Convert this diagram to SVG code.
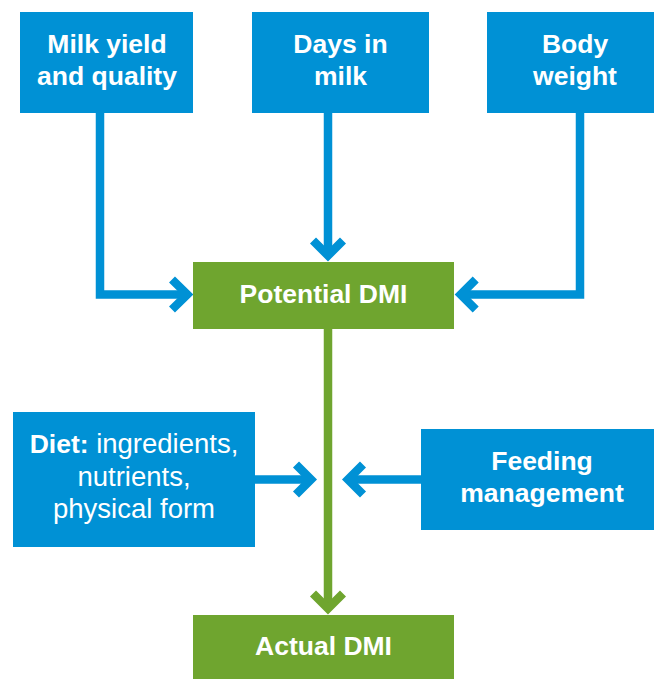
<svg xmlns="http://www.w3.org/2000/svg" width="654" height="679" viewBox="0 0 654 679">
<style>
.blue{fill:#0091d5}
.green{fill:#6fa52f}
.t{font-family:"Liberation Sans",Arial,sans-serif;font-size:26.5px;font-weight:bold;fill:#fff;text-anchor:middle}
.r{font-weight:normal;font-size:27.5px}
.cb{fill:none;stroke:#0091d5;stroke-width:8.5;stroke-miterlimit:10}
.cg{fill:none;stroke:#6fa52f;stroke-width:8.5;stroke-miterlimit:10}
</style>
<rect width="654" height="679" fill="#fff"/>
<g id="connectors">
<polyline class="cb" points="100,113 100,294.5 188,294.5"/>
<polyline class="cb" points="172,279.5 187.3,294.5 172,309.5"/>
<line class="cb" x1="328" y1="113" x2="328" y2="255"/>
<polyline class="cb" points="313,240.5 328,255.5 343,240.5"/>
<polyline class="cb" points="580,113 580,294.5 460,294.5"/>
<polyline class="cb" points="475.7,279.5 460.7,294.5 475.7,309.5"/>
<line class="cg" x1="328" y1="329" x2="328" y2="608"/>
<polyline class="cg" points="313,593.5 328,608.5 343,593.5"/>
<line class="cb" x1="255" y1="479.5" x2="311" y2="479.5"/>
<polyline class="cb" points="296,464.5 311,479.5 296,494.5"/>
<line class="cb" x1="421" y1="479.5" x2="348" y2="479.5"/>
<polyline class="cb" points="363,464.5 348,479.5 363,494.5"/>
</g>
<g id="milk">
<rect class="blue" x="20" y="12" width="173" height="101"/>
<text class="t" x="107" y="53">Milk yield</text>
<text class="t" x="107" y="85">and quality</text>
</g>
<g id="days">
<rect class="blue" x="252" y="12" width="177" height="101"/>
<text class="t" x="340.5" y="53">Days in</text>
<text class="t" x="340.5" y="85">milk</text>
</g>
<g id="body">
<rect class="blue" x="487" y="12" width="176" height="101"/>
<text class="t" x="575" y="53">Body</text>
<text class="t" x="575" y="85">weight</text>
</g>
<g id="potential">
<rect class="green" x="193" y="262" width="261" height="67"/>
<text class="t" x="323.5" y="302.5">Potential DMI</text>
</g>
<g id="diet">
<rect class="blue" x="13" y="412" width="242" height="135"/>
<text class="t" x="134" y="453"><tspan>Diet:</tspan><tspan class="r"> ingredients,</tspan></text>
<text class="t r" x="134" y="486">nutrients,</text>
<text class="t r" x="134" y="518">physical form</text>
</g>
<g id="feeding">
<rect class="blue" x="421" y="429" width="242" height="101"/>
<text class="t" x="542" y="470">Feeding</text>
<text class="t" x="542" y="502">management</text>
</g>
<g id="actual">
<rect class="green" x="193" y="615" width="261" height="64"/>
<text class="t" x="323.5" y="655">Actual DMI</text>
</g>
</svg>
